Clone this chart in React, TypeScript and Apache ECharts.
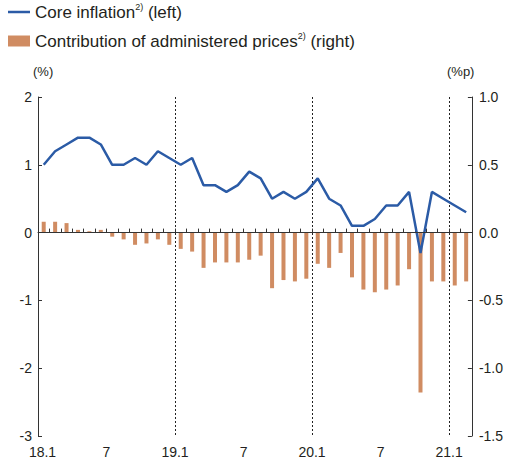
import React, { useEffect, useRef } from "react";
import * as echarts from "echarts";

const categories: string[] = [
  "2018-01","2018-02","2018-03","2018-04","2018-05","2018-06","2018-07","2018-08","2018-09","2018-10","2018-11","2018-12",
  "2019-01","2019-02","2019-03","2019-04","2019-05","2019-06","2019-07","2019-08","2019-09","2019-10","2019-11","2019-12",
  "2020-01","2020-02","2020-03","2020-04","2020-05","2020-06","2020-07","2020-08","2020-09","2020-10","2020-11","2020-12",
  "2021-01","2021-02",
];

const coreInflation: number[] = [
  1.0, 1.2, 1.3, 1.4, 1.4, 1.3, 1.0, 1.0, 1.1, 1.0, 1.2, 1.1,
  1.0, 1.1, 0.7, 0.7, 0.6, 0.7, 0.9, 0.8, 0.5, 0.6, 0.5, 0.6,
  0.8, 0.5, 0.4, 0.1, 0.1, 0.2, 0.4, 0.4, 0.6, -0.3, 0.6, 0.5,
  0.4, 0.3,
];

const administeredContribution: number[] = [
  0.08, 0.08, 0.07, 0.02, 0.01, 0.02, -0.03, -0.05, -0.09, -0.08, -0.05, -0.09,
  -0.12, -0.14, -0.26, -0.22, -0.22, -0.22, -0.2, -0.17, -0.41, -0.35, -0.36, -0.34,
  -0.23, -0.26, -0.15, -0.33, -0.42, -0.44, -0.42, -0.39, -0.27, -1.18, -0.36, -0.36,
  -0.39, -0.36,
];

const xTickLabels: Record<number, string> = {
  0: "18.1", 6: "7", 12: "19.1", 18: "7", 24: "20.1", 30: "7", 36: "21.1",
};
const yearStartIndices: number[] = [12, 24, 36];

const FONT = "Liberation Sans, Arial, Helvetica, sans-serif";
const TEXT = "#231f20";
const AXIS = "#333333";
const BLUE = "#2b5ba6";
const ORANGE = "#d08c62";

export default function App() {
  const ref = useRef<HTMLDivElement>(null);
  useEffect(() => {
    document.body.style.margin = "0";
    if (!ref.current) return;
    const chart = echarts.init(ref.current, null, { renderer: "svg" });
    chart.setOption({
      animation: false,
      textStyle: { fontFamily: FONT, color: TEXT },
      legend: {
        orient: "vertical",
        left: 8,
        top: 2,
        padding: 0,
        itemWidth: 22,
        itemHeight: 11,
        itemGap: 9,
        symbolKeepAspect: true,
        textStyle: {
          fontFamily: FONT,
          fontSize: 17,
          lineHeight: 20,
          color: TEXT,
          rich: {
            sup: { fontSize: 9, lineHeight: 12, verticalAlign: "top", fontFamily: FONT, color: TEXT },
          },
        },
        formatter: (name: string) =>
          name === "Core inflation"
            ? "Core inflation{sup|2)} (left)"
            : "Contribution of administered prices{sup|2)} (right)",
        data: [
          { name: "Core inflation", icon: "path://M0,0 H22 V2.5 H0 Z" },
          { name: "Contribution of administered prices", icon: "rect" },
        ],
      },
      graphic: [
        { type: "text", left: 33, top: 65, style: { text: "(%)", fontSize: 13, fontFamily: FONT, fill: TEXT } },
        { type: "text", left: 447, top: 65, style: { text: "(%p)", fontSize: 13, fontFamily: FONT, fill: TEXT } },
      ],
      grid: { left: 38, right: 34, top: 97, bottom: 31, containLabel: false },
      xAxis: [
        {
          type: "category",
          data: categories,
          boundaryGap: true,
          axisLine: { show: true, lineStyle: { color: AXIS, width: 1 } },
          axisTick: { show: true, inside: true, length: 4, interval: 0, lineStyle: { color: AXIS } },
          axisLabel: { show: false },
          splitLine: {
            show: true,
            interval: (index: number) => yearStartIndices.indexOf(index) >= 0,
            lineStyle: { type: [2, 2], color: "#222", width: 1 },
          },
        },
        {
          type: "value",
          min: 0,
          max: categories.length,
          interval: 6,
          position: "bottom",
          axisLine: { show: false },
          axisTick: { show: false },
          splitLine: { show: false },
          axisLabel: {
            show: true,
            margin: 9,
            fontSize: 14,
            fontFamily: FONT,
            color: TEXT,
            formatter: (v: number) => (v === 0 ? "{first|18.1}" : xTickLabels[v] ?? ""),
            rich: { first: { padding: [0, 0, 0, 9], fontSize: 14, fontFamily: FONT, color: TEXT } },
          },
        },
      ],
      yAxis: [
        {
          type: "value",
          min: -3,
          max: 2,
          interval: 1,
          axisLine: { show: true, lineStyle: { color: AXIS } },
          axisTick: { show: true, inside: true, length: 4, lineStyle: { color: AXIS } },
          splitLine: { show: false },
          axisLabel: { margin: 6, fontSize: 14, fontFamily: FONT, color: TEXT },
        },
        {
          type: "value",
          min: -1.5,
          max: 1.0,
          interval: 0.5,
          position: "right",
          axisLine: { show: true, lineStyle: { color: AXIS } },
          axisTick: { show: true, inside: true, length: 4, lineStyle: { color: AXIS } },
          splitLine: { show: false },
          axisLabel: {
            margin: 7,
            fontSize: 14,
            fontFamily: FONT,
            color: TEXT,
            formatter: (v: number) => v.toFixed(1),
          },
        },
      ],
      series: [
        {
          name: "Contribution of administered prices",
          type: "bar",
          xAxisIndex: 0,
          yAxisIndex: 1,
          data: administeredContribution,
          barWidth: 4,
          itemStyle: { color: ORANGE },
        },
        {
          name: "Core inflation",
          type: "line",
          xAxisIndex: 0,
          yAxisIndex: 0,
          data: coreInflation,
          symbol: "none",
          lineStyle: { color: BLUE, width: 2.5 },
          itemStyle: { color: BLUE },
          z: 3,
          markLine: {
            silent: true,
            symbol: "none",
            label: { show: false },
            lineStyle: { color: AXIS, type: "solid", width: 1 },
            data: [{ yAxis: 0 }],
          },
        },
      ],
    });
    return () => chart.dispose();
  }, []);
  return <div ref={ref} style={{ width: 506, height: 467 }} />;
}
